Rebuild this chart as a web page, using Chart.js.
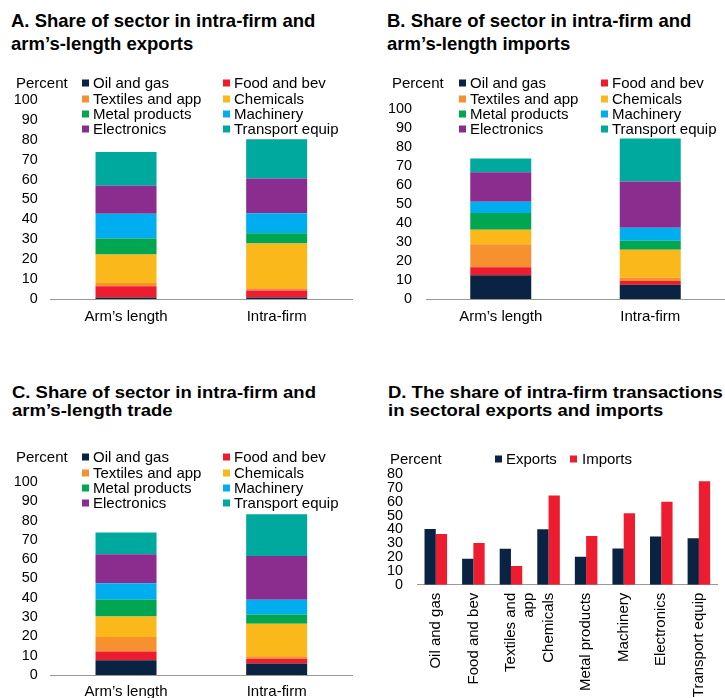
<!DOCTYPE html>
<html>
<head>
<meta charset="utf-8">
<script src="https://cdn.jsdelivr.net/npm/chart.js@4.4.0/dist/chart.umd.min.js"></script>
<style>
body { margin: 0; width: 725px; height: 698px; position: relative; overflow: hidden; background: #fff;
       font-family: "Liberation Sans", Arial, sans-serif; color: #000; }
.title { position: absolute; font-weight: bold; font-size: 18.5px; line-height: 23.3px; white-space: nowrap; }
.title.small { font-size: 16.5px; line-height: 18.3px; transform: scaleX(1.12); transform-origin: left top; }
canvas { position: absolute; }
.lg { position: absolute; font-size: 15px; line-height: 16px; white-space: nowrap; transform: translateY(-50%); }
.sw { position: absolute; width: 7px; height: 7px; transform: translateY(-50%); }
</style>
</head>
<body>
<div class="title" style="left:11px;top:8.7px">A. Share of sector in intra-firm and<br>arm’s-length exports</div>
<div class="title" style="left:387px;top:8.7px">B. Share of sector in intra-firm and<br>arm’s-length imports</div>
<div class="title small" style="left:12px;top:383px">C. Share of sector in intra-firm and<br>arm’s-length trade</div>
<div class="title small" style="left:388px;top:383px">D. The share of intra-firm transactions<br>in sectoral exports and imports</div>

<canvas id="chartA" width="360" height="270" style="left:0;top:60px"></canvas>
<canvas id="chartB" width="365" height="270" style="left:360px;top:60px"></canvas>
<canvas id="chartC" width="360" height="278" style="left:0;top:420px"></canvas>
<canvas id="chartD" width="365" height="278" style="left:360px;top:420px"></canvas>

<script>
const FONT = '"Liberation Sans", Arial, sans-serif';

// categories
const sectors = ['Oil and gas', 'Food and bev', 'Textiles and app', 'Chemicals',
                 'Metal products', 'Machinery', 'Electronics', 'Transport equip'];
const sectorLabelsD = ['Oil and gas', 'Food and bev', ['Textiles and', 'app'], 'Chemicals',
                       'Metal products', 'Machinery', 'Electronics', 'Transport equip'];
const tradeTypes = ['Arm’s length', 'Intra-firm'];
const shareSeries = ['Exports', 'Imports'];

// A. exports, share of each sector (percent)
const exportsArm   = [0.8, 5.6, 1.6, 14.4, 8.0, 12.4, 14.1, 17.0];
const exportsIntra = [0.8, 3.5, 1.1, 22.5, 5.1, 10.1, 17.4, 19.8];
// B. imports
const importsArm   = [12.5, 4.2, 12.1, 7.7, 8.8, 5.9, 15.6, 7.2];
const importsIntra = [7.5, 2.0, 1.7, 14.8, 4.7, 6.8, 24.4, 22.7];
// C. total trade
const tradeArm     = [7.6, 4.6, 7.5, 10.6, 8.7, 8.6, 15.0, 11.2];
const tradeIntra   = [6.0, 2.3, 1.4, 16.9, 4.8, 7.6, 22.7, 21.6];
// D. intra-firm share of sectoral exports / imports
const intraShareExports = [40.3, 18.8, 26.1, 40.1, 20.3, 26.3, 35.0, 33.6];
const intraShareImports = [36.7, 30.2, 13.5, 64.7, 35.3, 51.7, 60.1, 74.9];

// axis ranges
const stackedMax = 100;
const shareMax = 80;
const tickStep = 10;

const sectorColors = ['#0b2343', '#ed1c2e', '#f7902f', '#fbb81a',
                      '#00a650', '#00aeef', '#8a2d8e', '#00a99d'];
const shareColors = ['#0b2343', '#ed1c2e'];

Chart.defaults.font.family = FONT;
Chart.defaults.font.size = 14.4;
Chart.defaults.color = '#000';

function axisX(cfg, extra) {
    return Object.assign({
        grid: { display: false, drawTicks: false },
        border: { display: true, color: '#999', width: 1 },
        ticks: { padding: cfg.xPad, maxRotation: 0, minRotation: 0, autoSkip: false, font: { size: 15 } },
        afterFit: function (s) { s.height = cfg.xH; }
    }, extra);
}

function axisY(cfg, max) {
    return {
        min: 0, max: max,
        grid: { display: false, drawTicks: false },
        border: { display: false },
        ticks: { stepSize: tickStep, autoSkip: false, padding: cfg.yPad },
        afterFit: function (s) { s.width = cfg.yW; }
    };
}

function stackedChart(id, armValues, intraValues, cfg) {
    var datasets = sectors.map(function (s, i) {
        return {
            label: s,
            data: [armValues[i], intraValues[i]],
            backgroundColor: sectorColors[i],
            borderWidth: 0,
            categoryPercentage: 1,
            barPercentage: cfg.barPct
        };
    });
    var x = axisX(cfg, {});
    x.stacked = true;
    var y = axisY(cfg, stackedMax);
    y.stacked = true;
    new Chart(document.getElementById(id), {
        type: 'bar',
        data: { labels: tradeTypes, datasets: datasets },
        options: {
            responsive: false, animation: false, devicePixelRatio: 1,
            layout: { padding: { top: cfg.top, right: cfg.right, left: 0, bottom: 0 } },
            plugins: { legend: { display: false }, tooltip: { enabled: false } },
            scales: { x: x, y: y }
        }
    });
}

function addText(text, left, top) {
    var d = document.createElement('div');
    d.className = 'lg';
    d.style.left = left + 'px';
    d.style.top = top + 'px';
    d.textContent = text;
    document.body.appendChild(d);
}

function addSwatch(color, left, top) {
    var d = document.createElement('div');
    d.className = 'sw';
    d.style.left = left + 'px';
    d.style.top = top + 'px';
    d.style.background = color;
    document.body.appendChild(d);
}

// 2-column legend with the "Percent" unit label in front
function sectorLegend(px, cols, rowY) {
    addText('Percent', px, rowY[0]);
    sectors.forEach(function (s, i) {
        var c = cols[i % 2];
        var y = rowY[Math.floor(i / 2)];
        addSwatch(sectorColors[i], c, y);
        addText(s, c + 11, y);
    });
}

stackedChart('chartA', exportsArm, exportsIntra,
    { top: 40, right: 8, yW: 50.7, yPad: 13, xH: 31, xPad: 9, barPct: 0.405 });
stackedChart('chartB', importsArm, importsIntra,
    { top: 49.3, right: 0, yW: 66, yPad: 14, xH: 31, xPad: 9, barPct: 0.408 });
stackedChart('chartC', tradeArm, tradeIntra,
    { top: 62, right: 8, yW: 50.7, yPad: 13, xH: 23, xPad: 8, barPct: 0.405 });

sectorLegend(16, [82, 223], [83.3, 98.7, 114, 129.3]);
sectorLegend(392, [459, 601], [83.3, 98.7, 114, 129.3]);
sectorLegend(16, [82, 223], [457.3, 472.7, 488, 503.3]);

// D. grouped bars
var cfgD = { top: 54.3, right: 2, yW: 57, yPad: 14, xH: 113.3, xPad: 8 };
new Chart(document.getElementById('chartD'), {
    type: 'bar',
    data: {
        labels: sectorLabelsD,
        datasets: [
            { label: shareSeries[0], data: intraShareExports, backgroundColor: shareColors[0],
              borderWidth: 0, categoryPercentage: 0.6, barPercentage: 1 },
            { label: shareSeries[1], data: intraShareImports, backgroundColor: shareColors[1],
              borderWidth: 0, categoryPercentage: 0.6, barPercentage: 1 }
        ]
    },
    options: {
        responsive: false, animation: false, devicePixelRatio: 1,
        layout: { padding: { top: cfgD.top, right: cfgD.right, left: 0, bottom: 0 } },
        plugins: { legend: { display: false }, tooltip: { enabled: false } },
        scales: {
            x: axisX(cfgD, { ticks: { padding: cfgD.xPad, maxRotation: 90, minRotation: 90,
                                      autoSkip: false, font: { size: 15 } } }),
            y: axisY(cfgD, shareMax)
        }
    }
});

addText('Percent', 390, 459);
addSwatch(shareColors[0], 495, 459);
addText(shareSeries[0], 506, 459);
addSwatch(shareColors[1], 570, 459);
addText(shareSeries[1], 582, 459);
</script>
</body>
</html>
